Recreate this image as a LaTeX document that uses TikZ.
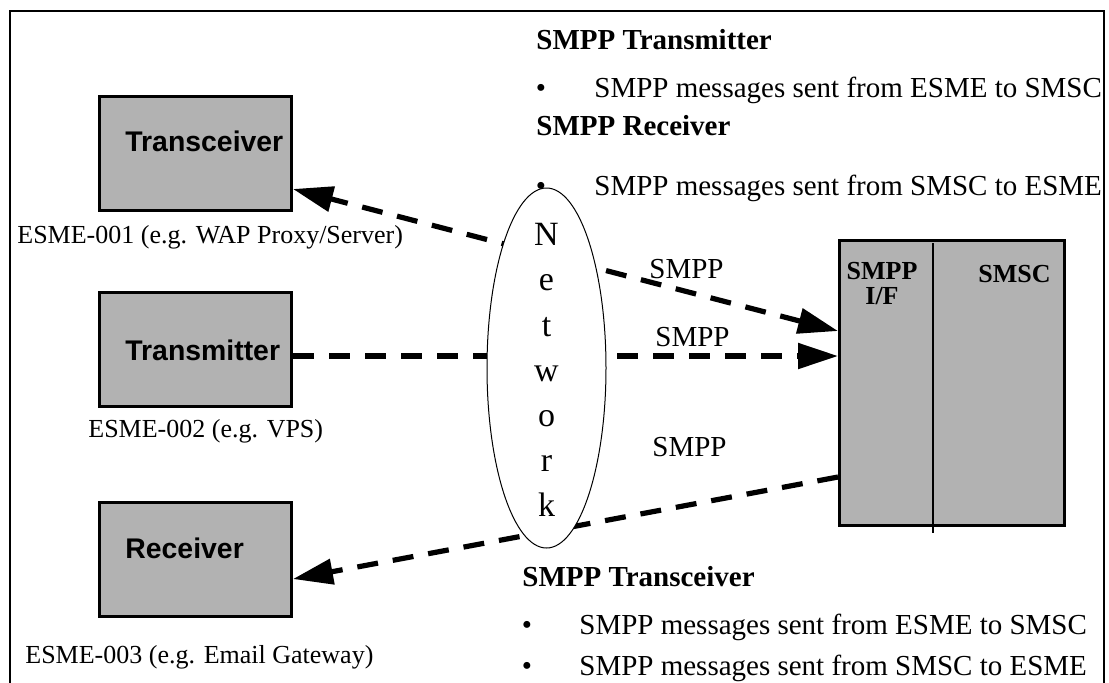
\documentclass[tikz,border=0pt]{standalone}
\usepackage{fontspec}
\setmainfont{Liberation Serif}
\newfontfamily\esmesans{Liberation Sans}
\usetikzlibrary{arrows.meta, shapes.geometric, calc, positioning}
\definecolor{boxgray}{gray}{0.7}

\tikzset{
  esmebox/.style={draw, line width=1.5pt, fill=boxgray, minimum width=96pt, minimum height=57pt, inner sep=0pt},
  smscbox/.style={draw, line width=1.5pt, fill=boxgray, minimum width=112.5pt, minimum height=142.5pt, inner sep=0pt},
  boxtext/.style={anchor=base west, inner sep=0pt, font=\esmesans\bfseries\fontsize{14.2}{16}\selectfont},
  esmename/.style={anchor=base west, inner sep=0pt, font=\fontsize{13}{15}\selectfont},
  body/.style={anchor=base west, inner sep=0pt, font=\fontsize{14.5}{17}\selectfont},
  heading/.style={anchor=base west, inner sep=0pt, font=\bfseries\fontsize{14.5}{17}\selectfont},
  bulletdot/.style={anchor=base, inner sep=0pt, font=\fontsize{14.5}{17}\selectfont},
  smsctext/.style={inner sep=0pt, font=\bfseries\fontsize{13}{12.5}\selectfont},
  netword/.style={anchor=north, align=center, inner sep=0pt, font=\fontsize{17}{22.6}\selectfont},
  smpplink/.style={line width=2.6pt, dash pattern=on 10.5pt off 7.5pt},
  >={Triangle[length=20pt,width=12.5pt]}
}

\begin{document}
\begin{tikzpicture}[x=0.5pt, y=-0.5pt]
  \useasboundingbox (0,0) rectangle (1109,682);
  \clip (0,0) rectangle (1109,682);
  % outer frame (open at the bottom)
  \draw[line width=1pt] (10,11) rectangle (1104,720);

  % ESME boxes
  \node[esmebox] (trcv) at (195.5,153) {};
  \node[esmebox] (trmt) at (195.5,349.5) {};
  \node[esmebox] (rcvr) at (195.5,559) {};
  \node[boxtext] (trcvtext) at (125,151) {Transceiver};
  \node[boxtext] (trmttext) at (125,360) {Transmitter};
  \node[boxtext] (rcvrtext) at (125,558) {Receiver};
  \node[esmename] (esmea) at (17,243) {ESME-001 (e.g. WAP Proxy/Server)};
  \node[esmename] (esmeb) at (88,437) {ESME-002 (e.g. VPS)};
  \node[esmename] (esmec) at (25,663) {ESME-003 (e.g. Email Gateway)};

  % SMSC with its SMPP interface
  \node[smscbox] (smsc) at (952,383) {};
  \draw[line width=1pt] (933,243) -- (933,533);
  \node[smsctext, align=center, anchor=north] (smscif) at (882,262) {SMPP\\I/F};
  \node[smsctext, anchor=base west] (smscname) at (978,282) {SMSC};

  % SMPP links
  \draw[smpplink, <->] ($(smsc.west)+(0,-52)$) -- ($(trcv.east)+(0,36)$);
  \draw[smpplink, ->] ($(trmt.east)+(0,6.5)$) -- ($(smsc.west)+(0,-27)$);
  \draw[smpplink, ->] ($(smsc.west)+(0,94)$) -- ($(rcvr.east)+(0,20)$);
  \node[body] (smppa) at (649,278) {SMPP};
  \node[body] (smppb) at (655,346) {SMPP};
  \node[body] (smppc) at (652,456) {SMPP};

  % network
  \node[draw, ellipse, fill=white, line width=0.5pt, minimum width=59.5pt, minimum height=180pt, inner sep=0pt] (net) at (546.5,368) {};
  \node[netword] (netw) at (546.5,223) {N\\e\\t\\w\\o\\r\\k};

  % bind types
  \node[heading] (htx) at (536,49) {SMPP Transmitter};
  \node[bulletdot] (dota) at (541,97) {•};
  \node[body] (txa) at (594,97) {SMPP messages sent from ESME to SMSC};
  \node[heading] (hrx) at (536,135) {SMPP Receiver};
  \node[bulletdot] (dotb) at (541,195) {•};
  \node[body] (rxa) at (594,195) {SMPP messages sent from SMSC to ESME};
  \node[heading] (htrx) at (522,586) {SMPP Transceiver};
  \node[bulletdot] (dotc) at (527,634) {•};
  \node[body] (trxa) at (579,634) {SMPP messages sent from ESME to SMSC};
  \node[bulletdot] (dotd) at (527,675) {•};
  \node[body] (trxb) at (579,675) {SMPP messages sent from SMSC to ESME};
\end{tikzpicture}
\end{document}
